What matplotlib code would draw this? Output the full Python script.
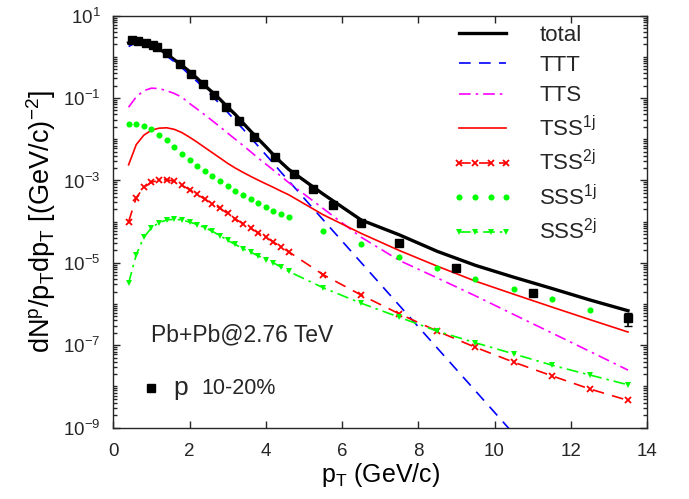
"""Proton pT spectra in Pb+Pb@2.76 TeV, 10-20%, with recombination components."""

import matplotlib

matplotlib.use("Agg")
import matplotlib.pyplot as plt
from matplotlib.ticker import FixedLocator, LogLocator, NullFormatter

TEXT_COLOR = "#262626"

# model grid (GeV/c): dense at low pT, coarse above 5 GeV/c
PT_MODEL = [0.4, 0.6, 0.8, 1.0, 1.2, 1.4, 1.6, 1.8, 2.0, 2.2, 2.4, 2.6, 2.8, 3.0, 3.2,
            3.4, 3.6, 3.8, 4.0, 4.2, 4.4, 4.6, 5.5, 6.5, 7.5, 8.5, 9.5, 10.5, 11.5, 12.5, 13.5]

TOTAL = [2.19, 2.57, 2.45, 2.04, 1.58, 1.17, 0.85, 0.62, 0.44, 0.30, 0.20, 0.138, 0.093,
         0.060, 0.040, 0.025, 0.0158, 0.0102, 0.0066, 0.0042, 0.00275, 0.00186,
         4.7e-4, 1.1e-4, 4.8e-5, 1.9e-5, 8.7e-6, 4.5e-6, 2.4e-6, 1.26e-6, 6.9e-7]
TTT = [1.78, 2.24, 2.19, 1.86, 1.45, 1.05, 0.76, 0.54, 0.37, 0.25, 0.166, 0.110, 0.071,
       0.045, 0.028, 0.0178, 0.011, 0.0068, 0.0042, 0.0026, 0.00158, 9.8e-4,
       1.12e-4, 1.02e-5, 9.3e-7, 8.5e-8, 7.8e-9, 7.1e-10]
TTS = [0.060, 0.107, 0.151, 0.174, 0.170, 0.151, 0.129, 0.105, 0.074, 0.054, 0.039, 0.028,
       0.020, 0.0141, 0.0100, 0.0071, 0.0050, 0.0035, 0.0025, 0.00178, 0.00126, 8.9e-4,
       2.1e-4, 4.2e-5, 1.15e-5, 4.3e-6, 1.58e-6, 5.6e-7, 2.0e-7, 7.1e-8, 2.5e-8]
TSS_1J = [2.4e-3, 7.4e-3, 0.0126, 0.0166, 0.0186, 0.019, 0.0174, 0.0145, 0.0112, 0.0085,
          0.0063, 0.0047, 0.0035, 0.0026, 0.0020, 0.00158, 0.00126, 0.00102, 8.3e-4,
          6.8e-4, 5.5e-4, 4.5e-4, 1.48e-4, 5.2e-5, 2.0e-5, 8.3e-6, 3.6e-6, 1.74e-6,
          8.5e-7, 4.2e-7, 2.1e-7]
TSS_2J = [1.0e-4, 3.8e-4, 6.8e-4, 9.1e-4, 1.02e-3, 1.05e-3, 9.5e-4, 7.6e-4, 6.0e-4, 4.6e-4,
          3.5e-4, 2.75e-4, 2.1e-4, 1.58e-4, 1.17e-4, 8.9e-5, 6.9e-5, 5.4e-5, 4.2e-5,
          3.2e-5, 2.45e-5, 1.86e-5, 5.2e-6, 1.66e-6, 5.8e-7, 2.2e-7, 8.9e-8, 3.9e-8,
          1.82e-8, 8.7e-9, 4.6e-9]
SSS_1J = [0.023, 0.024, 0.021, 0.0174, 0.0129, 0.0095, 0.0065, 0.0044, 0.0032, 0.0023,
          0.0017, 0.00126, 9.5e-4, 7.4e-4, 5.6e-4, 4.4e-4, 3.5e-4, 2.8e-4, 2.3e-4,
          1.86e-4, 1.55e-4, 1.32e-4, 5.9e-5, 2.8e-5, 1.41e-5, 7.4e-6, 4.1e-6, 2.3e-6,
          1.32e-6, 7.2e-7, 4.1e-7]
SSS_2J = [3.2e-6, 1.58e-5, 4.2e-5, 7.1e-5, 9.5e-5, 1.1e-4, 1.15e-4, 1.1e-4, 9.8e-5, 8.5e-5,
          7.2e-5, 5.8e-5, 4.6e-5, 3.5e-5, 2.8e-5, 2.2e-5, 1.82e-5, 1.48e-5, 1.2e-5, 1.0e-5,
          7.9e-6, 6.2e-6, 2.5e-6, 1.05e-6, 4.8e-7, 2.2e-7, 1.15e-7, 6.2e-8, 3.3e-8,
          1.9e-8, 1.1e-8]

# ALICE protons, 10-20%
PT_DATA = [0.5, 0.65, 0.85, 1.05, 1.15, 1.4, 1.75, 2.05, 2.35, 2.65, 2.95, 3.3, 3.7,
           4.25, 4.75, 5.25, 5.75, 6.5, 7.5, 9.0, 11.0, 13.5]
YIELD_DATA = [2.57, 2.47, 2.21, 1.95, 1.77, 1.26, 0.67, 0.385, 0.22, 0.119, 0.062, 0.028,
              0.0115, 0.0037, 0.00144, 6.2e-4, 2.55e-4, 9.5e-5, 3.0e-5, 7.5e-6, 1.9e-6,
              4.6e-7]
YIELD_ERR = [0, 0, 0, 0, 0, 0, 0, 0, 0, 0, 0, 0, 0, 0, 0, 0, 0, 0, 0,
             1.0e-6, 3.5e-7, 1.6e-7]

Y_TICKS = [1e1, 1e-1, 1e-3, 1e-5, 1e-7, 1e-9]
Y_TICK_LABELS = [r"10$^{1}$", r"10$^{-1}$", r"10$^{-3}$", r"10$^{-5}$", r"10$^{-7}$", r"10$^{-9}$"]


def apply_style() -> None:
    plt.rcParams["font.family"] = ["Liberation Sans", "DejaVu Sans"]
    plt.rcParams["mathtext.fontset"] = "custom"
    plt.rcParams["mathtext.rm"] = "Liberation Sans"
    plt.rcParams["mathtext.it"] = "Liberation Sans"
    plt.rcParams["mathtext.default"] = "regular"
    plt.rcParams["text.color"] = TEXT_COLOR
    plt.rcParams["axes.edgecolor"] = TEXT_COLOR
    plt.rcParams["xtick.color"] = TEXT_COLOR
    plt.rcParams["ytick.color"] = TEXT_COLOR


def plot_spectra(output_path: str) -> None:
    apply_style()
    fig = plt.figure(figsize=(6.89, 4.99), dpi=100)
    ax = fig.add_axes([0.1645, 0.1429, 0.7746, 0.8257])

    n_ttt = len(TTT)
    ax.plot(PT_MODEL, TOTAL, color="black", lw=2.4, label="total")
    ax.plot(PT_MODEL[:n_ttt], TTT, color="#0000ff", lw=1.2, ls=(0, (7, 5)), label="TTT")
    ax.plot(PT_MODEL, TTS, color="#ff00ff", lw=1.2, ls=(0, (7, 3, 1.5, 3)), label="TTS")
    ax.plot(PT_MODEL, TSS_1J, color="#ff0000", lw=1.2, label=r"TSS$^{1j}$")
    ax.plot(PT_MODEL, TSS_2J, color="#ff0000", lw=1.2, ls=(0, (7, 5)), marker="x",
            ms=5, mew=1.3, label=r"TSS$^{2j}$")
    ax.plot(PT_MODEL, SSS_1J, color="#00ff00", ls="none", marker="o", ms=4.4, mew=0,
            label=r"SSS$^{1j}$")
    ax.plot(PT_MODEL, SSS_2J, color="#00ff00", lw=1.2, ls=(0, (7, 3, 1.5, 3)), marker="v",
            ms=5, mew=0, label=r"SSS$^{2j}$")

    ax.errorbar(PT_DATA, YIELD_DATA, yerr=YIELD_ERR, fmt="s", color="black", ms=6,
                elinewidth=1.2, capsize=3, zorder=5)

    ax.set_yscale("log")
    ax.set_xlim(0, 14)
    ax.set_ylim(1e-9, 1e1)
    ax.set_xticks(range(0, 15, 2))
    ax.yaxis.set_major_locator(FixedLocator(Y_TICKS))
    ax.set_yticklabels(Y_TICK_LABELS)
    ax.yaxis.set_minor_locator(LogLocator(base=10, subs=range(1, 10), numticks=30))
    ax.yaxis.set_minor_formatter(NullFormatter())
    ax.tick_params(which="both", direction="in", top=True, right=True, width=1.0)
    ax.tick_params(which="major", length=5, labelsize=13.5)
    ax.tick_params(which="minor", length=3)
    ax.tick_params(axis="x", which="major", pad=11)
    ax.tick_params(axis="y", which="major", pad=9)
    for spine in ax.spines.values():
        spine.set_linewidth(1.0)

    ax.set_xlabel(r"p$_{T}$ (GeV/c)", fontsize=18, labelpad=1)
    ax.set_ylabel(r"dN$^{p}$/p$_{T}$dp$_{T}$ [(GeV/c)$^{-2}$]", fontsize=19.5, labelpad=4)

    ax.text(1.0, 10 ** -6.75, "Pb+Pb@2.76 TeV", fontsize=16.5, va="center")
    ax.plot([1.0], [10 ** -8.04], "s", color="black", ms=6)
    ax.text(1.58, 10 ** -8.04, "p", fontsize=19, va="center")
    ax.text(2.3, 10 ** -8.04, "10-20%", fontsize=15.5, va="center")

    ax.legend(loc="upper left", frameon=False, fontsize=16, numpoints=4,
              handlelength=2.7, handletextpad=1.2, labelspacing=0.42,
              borderpad=0, borderaxespad=0, bbox_to_anchor=(0.636, 0.978))

    fig.savefig(output_path, dpi=100)
    plt.close(fig)


def main() -> None:
    plot_spectra("out.png")


if __name__ == "__main__":
    main()
